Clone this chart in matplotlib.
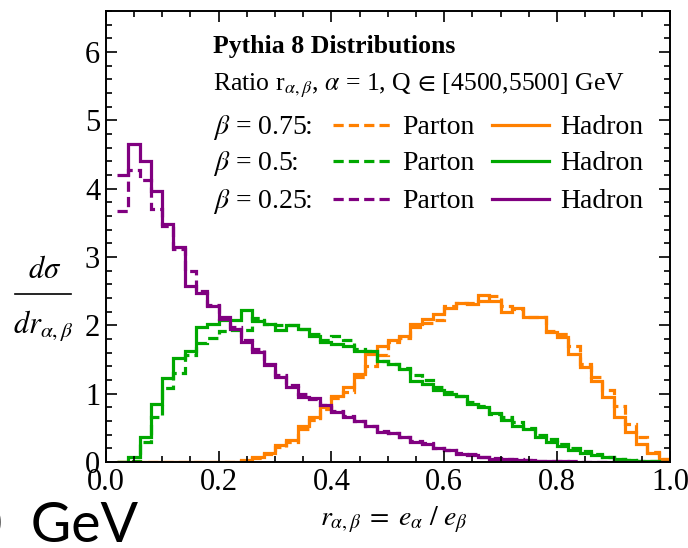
import numpy as np
import matplotlib
matplotlib.use("Agg")
import matplotlib.pyplot as plt
from matplotlib.ticker import MultipleLocator
from matplotlib.lines import Line2D

plt.rcParams['font.family'] = ['Liberation Serif', 'DejaVu Serif']
plt.rcParams['mathtext.fontset'] = 'stix'

# =========================
# data (bins of 0.02, from r = 0.02 to 1.0)
# =========================
r_lo, r_hi, n_bins = 0.02, 1.0, 49

b075_parton = [0, 0, 0, 0, 0, 0, 0, 0, 0, 0, 0,
               0.02, 0.06, 0.12, 0.22, 0.30, 0.48, 0.62, 0.78, 0.93, 1.03,
               1.24, 1.41, 1.56, 1.75, 1.82, 1.97, 2.04, 2.08, 2.28, 2.32,
               2.32, 2.36, 2.43, 2.28, 2.24, 2.12, 2.12, 1.92, 1.87, 1.70,
               1.44, 1.25, 1.05, 0.82, 0.56, 0.37, 0.15, 0.05]
b075_hadron = [0, 0, 0, 0, 0, 0, 0, 0, 0, 0, 0,
               0.03, 0.08, 0.13, 0.25, 0.32, 0.52, 0.66, 0.81, 0.97, 1.10,
               1.29, 1.58, 1.70, 1.78, 1.85, 2.02, 2.09, 2.16, 2.26, 2.33,
               2.31, 2.45, 2.36, 2.19, 2.26, 2.12, 2.12, 1.90, 1.83, 1.58,
               1.39, 1.19, 0.95, 0.66, 0.44, 0.27, 0.13, 0.05]

b05_parton = [0.0, 0.02, 0.30, 0.66, 1.08, 1.30, 1.56, 1.74, 1.82, 1.91,
              1.93, 1.93, 2.11, 2.02, 2.00, 2.00, 1.95, 1.88, 1.78, 1.84,
              1.78, 1.66, 1.62, 1.48, 1.44, 1.38, 1.27, 1.20, 1.10, 1.03,
              0.97, 0.88, 0.82, 0.70, 0.66, 0.58, 0.50, 0.40, 0.33, 0.27,
              0.20, 0.16, 0.11, 0.08, 0.05, 0.03, 0.02, 0.01, 0.005]
b05_hadron = [0.0, 0.08, 0.36, 0.85, 1.23, 1.52, 1.62, 1.97, 2.02, 2.08,
              2.08, 2.22, 2.07, 2.02, 1.93, 2.00, 1.95, 1.85, 1.75, 1.72,
              1.70, 1.63, 1.62, 1.48, 1.44, 1.36, 1.18, 1.14, 1.06, 1.00,
              0.96, 0.85, 0.80, 0.72, 0.62, 0.53, 0.48, 0.36, 0.30, 0.24,
              0.18, 0.13, 0.10, 0.07, 0.05, 0.03, 0.015, 0.01, 0.005]

b025_parton = [3.68, 4.27, 4.12, 3.70, 3.45, 3.12, 2.80, 2.50, 2.30, 2.12,
               1.98, 1.78, 1.65, 1.44, 1.28, 1.12, 1.00, 0.92, 0.83, 0.75,
               0.68, 0.60, 0.53, 0.46, 0.42, 0.37, 0.31, 0.28, 0.21, 0.18,
               0.13, 0.11, 0.08, 0.06, 0.05, 0.04, 0.03, 0.02, 0.015, 0.01,
               0.01, 0.005, 0.005, 0.005, 0, 0, 0, 0, 0]
b025_hadron = [4.20, 4.65, 4.40, 3.97, 3.48, 3.14, 2.58, 2.47, 2.28, 2.10,
               1.95, 1.75, 1.61, 1.42, 1.24, 1.10, 0.95, 0.93, 0.84, 0.73,
               0.66, 0.60, 0.52, 0.44, 0.42, 0.37, 0.29, 0.27, 0.20, 0.17,
               0.12, 0.10, 0.08, 0.05, 0.04, 0.03, 0.025, 0.02, 0.015, 0.01,
               0.005, 0.005, 0.005, 0.005, 0.005, 0, 0, 0, 0]

series = [
    ("$\\beta$ = 0.75:", "#FF8000", b075_parton, b075_hadron),
    ("$\\beta$ = 0.5:", "#00A800", b05_parton, b05_hadron),
    ("$\\beta$ = 0.25:", "#800080", b025_parton, b025_hadron),
]

# =========================
# figure
# =========================
W, H = 688, 548
fig = plt.figure(figsize=(6.88, 5.48), dpi=100)
ax = fig.add_axes([105.7 / W, 86 / H, 564.3 / W, 451 / H])

edges = np.linspace(r_lo, r_hi, n_bins + 1)
lw = 2.3
dash = (3.2, 1.6)

for label, col, parton, hadron in series:
    ax.stairs(parton, edges, baseline=None, color=col, lw=lw,
              linestyle=(0, dash))
for label, col, parton, hadron in series:
    ax.stairs(hadron, edges, baseline=None, color=col, lw=lw)

ax.set_xlim(0, 1)
ax.set_ylim(0, 6.6)
ax.xaxis.set_major_locator(MultipleLocator(0.2))
ax.xaxis.set_minor_locator(MultipleLocator(0.05))
ax.yaxis.set_major_locator(MultipleLocator(1))
ax.yaxis.set_minor_locator(MultipleLocator(0.2))
ax.xaxis.set_major_formatter(plt.FuncFormatter(lambda v, p: f"{v:.1f}"))
ax.tick_params(which='both', direction='in', top=True, right=True,
               labelsize=22, width=1.2)
ax.tick_params(which='major', length=8, pad=4)
ax.tick_params(which='minor', length=4.5)
for s in ax.spines.values():
    s.set_linewidth(1.4)

# =========================
# axis labels (y label built as a fraction by hand)
# =========================
fig.text(45 / W, 1 - 270 / H, r"$d\sigma$", ha='center', va='center', fontsize=22)
fig.add_artist(Line2D([15 / W, 71 / W], [1 - 294 / H] * 2, color='black', lw=1.2))
fig.text(43 / W, 1 - 326 / H, r"$dr_{\alpha,\beta}$", ha='center', va='center', fontsize=22)

fig.text(394 / W, 1 - 520 / H, r"$r_{\alpha,\beta}\;=\;e_\alpha\ /\ e_\beta$",
         ha='center', va='center', fontsize=20)

# =========================
# legend block (manual)
# =========================
def ax_x(px):
    return (px - 105.7) / 564.3

def ax_y(py):
    return (462 - py) / 451

ax.text(ax_x(213), ax_y(46), "Pythia 8 Distributions", transform=ax.transAxes,
        ha='left', va='center', fontsize=18.5, fontweight='bold')
ax.text(ax_x(213), ax_y(86),
        r"Ratio r$_{\alpha,\beta}$, $\alpha$ = 1, Q$\,\in\,$[4500,5500] GeV",
        transform=ax.transAxes, ha='left', va='center', fontsize=18.5)

rows_y = [127, 163, 201]
for (label, col, parton, hadron), py in zip(series, rows_y):
    y = ax_y(py)
    ax.text(ax_x(213), y, label, transform=ax.transAxes,
            ha='left', va='center', fontsize=20)
    ax.plot([ax_x(333), ax_x(391)], [ax_y(py - 2)] * 2, transform=ax.transAxes,
            color=col, lw=lw, linestyle=(0, dash))
    ax.text(ax_x(402), y, "Parton", transform=ax.transAxes,
            ha='left', va='center', fontsize=20)
    ax.plot([ax_x(492), ax_x(549)], [ax_y(py - 2)] * 2, transform=ax.transAxes,
            color=col, lw=lw)
    ax.text(ax_x(560), y, "Hadron", transform=ax.transAxes,
            ha='left', va='center', fontsize=20)

# leftover text from neighbouring panel
fig.text(138 / W, 6 / H, "00  GeV", ha='right', va='baseline',
         fontsize=40, family=['Lato', 'DejaVu Sans'])

fig.savefig("out.png", dpi=100)
